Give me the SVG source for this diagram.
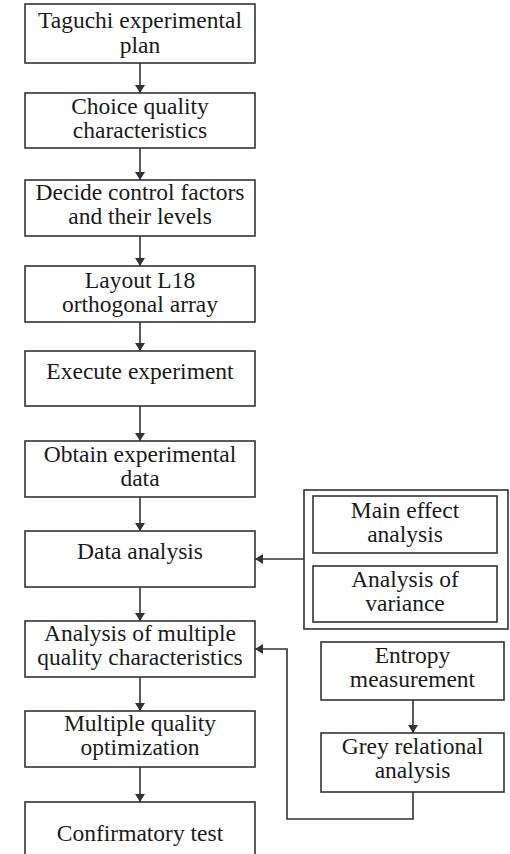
<svg xmlns="http://www.w3.org/2000/svg" width="510" height="854" viewBox="0 0 510 854">
<style>
rect{fill:#fff;stroke:#333;stroke-width:1.6}
text{font-family:"Liberation Serif","Times New Roman",serif;font-size:23.5px;fill:#1a1a1a;text-anchor:middle}
.c{fill:none;stroke:#333;stroke-width:1.6}
</style>
<defs>
<marker id="a" markerWidth="8" markerHeight="12" refX="8" refY="6" orient="auto" markerUnits="userSpaceOnUse">
<path d="M0,1 L8,6 L0,11 Z" fill="#333"/>
</marker>
</defs>
<rect x="0" y="0" width="510" height="854" style="fill:#fff;stroke:none"/>
<g id="n1"><rect x="25" y="4" width="230" height="59"/><text x="140" y="28">Taguchi experimental</text><text x="140" y="53">plan</text></g>
<g id="n2"><rect x="25" y="93" width="230" height="55"/><text x="140" y="114">Choice quality</text><text x="140" y="138">characteristics</text></g>
<g id="n3"><rect x="25" y="180" width="230" height="56"/><text x="140" y="200">Decide control factors</text><text x="140" y="224">and their levels</text></g>
<g id="n4"><rect x="25" y="266" width="230" height="56"/><text x="140" y="288">Layout L18</text><text x="140" y="312">orthogonal array</text></g>
<g id="n5"><rect x="25" y="351" width="230" height="55"/><text x="140" y="379">Execute experiment</text></g>
<g id="n6"><rect x="25" y="441" width="230" height="56"/><text x="140" y="462">Obtain experimental</text><text x="140" y="486">data</text></g>
<g id="n7"><rect x="25" y="531" width="230" height="56"/><text x="140" y="559">Data analysis</text></g>
<g id="n8"><rect x="25" y="621" width="230" height="56"/><text x="140" y="641">Analysis of multiple</text><text x="140" y="665">quality characteristics</text></g>
<g id="n9"><rect x="25" y="711" width="230" height="56"/><text x="140" y="731">Multiple quality</text><text x="140" y="755">optimization</text></g>
<g id="n10"><rect x="25" y="802" width="230" height="70"/><text x="140" y="841">Confirmatory test</text></g>
<g id="grp"><rect x="304" y="490" width="204" height="139"/></g>
<g id="n11"><rect x="313" y="496" width="184" height="57"/><text x="405" y="518">Main effect</text><text x="405" y="542">analysis</text></g>
<g id="n12"><rect x="313" y="566" width="184" height="56"/><text x="405" y="587">Analysis of</text><text x="405" y="611">variance</text></g>
<g id="n13"><rect x="321" y="642" width="183" height="58"/><text x="412.5" y="663">Entropy</text><text x="412.5" y="687">measurement</text></g>
<g id="n14"><rect x="321" y="733" width="183" height="59"/><text x="412.5" y="754">Grey relational</text><text x="412.5" y="778">analysis</text></g>
<g id="connectors" class="c">
<path class="c" d="M140,63 V93" marker-end="url(#a)"/>
<path class="c" d="M140,148 V180" marker-end="url(#a)"/>
<path class="c" d="M140,236 V266" marker-end="url(#a)"/>
<path class="c" d="M140,322 V351" marker-end="url(#a)"/>
<path class="c" d="M140,406 V441" marker-end="url(#a)"/>
<path class="c" d="M140,497 V531" marker-end="url(#a)"/>
<path class="c" d="M140,587 V621" marker-end="url(#a)"/>
<path class="c" d="M140,677 V711" marker-end="url(#a)"/>
<path class="c" d="M140,767 V802" marker-end="url(#a)"/>
<path class="c" d="M304,559 H255" marker-end="url(#a)"/>
<path class="c" d="M413,700 V733" marker-end="url(#a)"/>
<path class="c" d="M413,792 V819 H287 V649 H255" marker-end="url(#a)"/>
</g>
</svg>
